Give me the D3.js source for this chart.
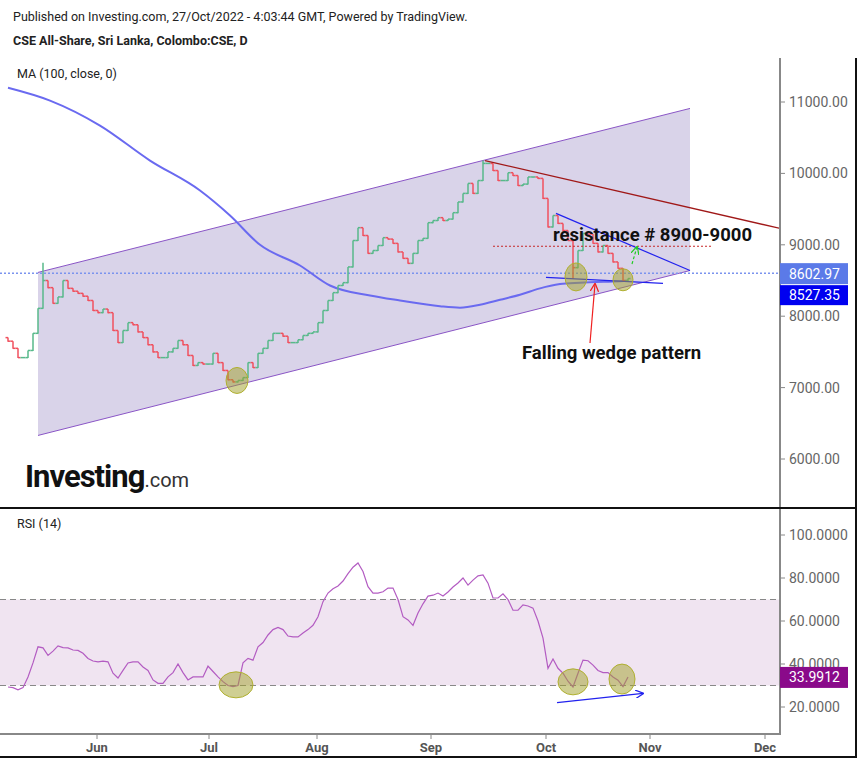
<!DOCTYPE html>
<html><head><meta charset="utf-8">
<script src="https://cdn.jsdelivr.net/npm/d3@7"></script>
<style>body{margin:0;background:#fff}svg{display:block;font-family:Roboto,"Liberation Sans",sans-serif}</style>
</head><body><svg id="c" width="864" height="763"></svg>
<script>
// ---- data ----
const closes=[7650,7550,7420,7420,7520,7760,8110,8500,8400,8180,
8270,8500,8390,8350,8320,8280,8220,8080,8050,8100,
8050,7800,7630,7800,7910,7880,7780,7700,7600,7500,
7420,7420,7500,7550,7660,7600,7450,7310,7350,7330,
7330,7480,7350,7240,7110,7080,7100,7140,7350,7280,
7480,7550,7660,7760,7760,7720,7630,7630,7670,7730,
7760,7780,7910,8080,8220,8330,8430,8470,8690,9060,
9240,9130,8880,8920,8990,9100,9080,9020,8900,8810,
8740,8880,9060,9090,9310,9340,9380,9340,9360,9450,
9600,9720,9860,9720,9900,10140,10140,10040,9900,9900,
10010,9970,9830,9850,9950,9950,9930,9650,9250,9410,
9300,9200,9060,8680,8920,9160,9150,9020,8900,8990,
8880,8760,8670,8500,8527.35];
const firstOpen=7700;
const wicks=[{i:7,high:8750,low:8110},{i:113,high:9060,low:8530},{i:69,high:9060,low:8690},{i:95,high:10180,low:9900}];
const rsi=[29.3,29,28,29,34,40.5,48,47.5,44,46,
48.4,47.6,47.5,46.5,46.3,45,42.6,41.4,41,41.3,
41,35.7,33.5,37,40.5,41,41,38.6,37,32.6,
31,31,34,36,40,36,32.6,34,34,34,
39,36.5,34,31.8,30,29.5,30,40.5,42.6,41.8,
48,50,53.5,56,57,56,53,52.6,52.6,54.4,
56,58,62,69,73,75,76.3,78.6,82,85,
87,83,76,73,73,73.6,75.3,75.3,70,62,
60.5,58,63.7,68,71.6,72,73,71.6,73.5,75.8,
77.7,80,76.7,79,81,81.4,77.6,70.7,70.7,72.6,
70,65,65,67.5,67,66,60,52,38,42.3,
38,35.7,32,29.3,35.7,41.8,41.5,39.5,37,36,
36,34,32.5,29.5,33.9912];
const maIdx=[0,8.4,18.4,28.4,38.4,44.4,50.4,58.4,64.4,72.4,78.4,86.4,90.4,94.4,98.4,102.4,106.4,110.4,114.4,122.4,124];
const maVal=[11200,11020,10670,10180,9760,9410,9000,8710,8430,8290,8220,8140,8120,8160,8230,8300,8390,8450,8470,8490,8495];
const priceTicks=[11000,10000,9000,8000,7000,6000];
const rsiTicks=[100,80,60,40,20];
const months=["Jun","Jul","Aug","Sep","Oct","Nov","Dec"];
const monthIdx=[17.8,40.2,61.8,84.6,107.6,128.4,151.4];
const lastPrice=8602.97;
// drawings (bar index, price)
const channel={top:[[6,8613],[136.4,10910]],bot:[[6,6330],[136.4,8640]]};
const trendTop=[[95.4,10180],[155,9220]];
const resistance=[[97,8980],[141,8980]];
const wedgeUpper=[[109.6,9440],[136.4,8640]];
const wedgeLower=[[107.6,8545],[131,8460]];
const priceEll=[[45.8,7100],[113.6,8550],[123,8510]];
const rsiEll=[[45.6,30.3],[113,31.7],[122.8,33]];
const rsiArrow=[[109.8,22],[127,26.3]];

// ---- scales ----
const svg=d3.select("#c");
const x=d3.scaleLinear().domain([0,124]).range([8,628]);
const y=d3.scaleLinear().domain([6000,11000]).range([459,102]);
const yr=d3.scaleLinear().domain([20,100]).range([707,535]);

svg.append("text").attr("x",13).attr("y",21).attr("font-size",12.5).attr("fill","#222").text("Published on Investing.com, 27/Oct/2022 - 4:03:44 GMT, Powered by TradingView.");
svg.append("text").attr("x",13).attr("y",45).attr("font-size",12.5).attr("font-weight","bold").attr("fill","#222").text("CSE All-Share, Sri Lanka, Colombo:CSE, D");

const defs=svg.append("defs");
defs.append("clipPath").attr("id","cm").append("rect").attr("x",0).attr("y",58).attr("width",780).attr("height",449);
defs.append("clipPath").attr("id","cr").append("rect").attr("x",0).attr("y",509).attr("width",780).attr("height",224);
["red","blue","green"].forEach((c,k)=>{defs.append("marker").attr("id","m"+c).attr("viewBox","0 0 10 10").attr("refX",9).attr("refY",5).attr("markerWidth",7).attr("markerHeight",7).attr("orient","auto")
 .append("path").attr("d","M0,0L10,5L0,10").attr("fill","none").attr("stroke",["#f02020","#2222ee","#22cc22"][k]).attr("stroke-width",1.5);});

const gm=svg.append("g").attr("clip-path","url(#cm)");
const chPts=[channel.top[0],channel.top[1],channel.bot[1],channel.bot[0]];
gm.append("path").attr("d",d3.line()(chPts.map(p=>[x(p[0]),y(p[1])]))+"Z").attr("fill","#d9d3e9");
[channel.top,channel.bot].forEach(l=>gm.append("line").attr("x1",x(l[0][0])).attr("y1",y(l[0][1])).attr("x2",x(l[1][0])).attr("y2",y(l[1][1])).attr("stroke","#8a55c6").attr("stroke-width",1));
svg.append("text").attr("x",17).attr("y",78).attr("font-size",12.5).attr("fill","#222").text("MA (100, close, 0)");
gm.append("line").attr("x1",0).attr("x2",780).attr("y1",y(lastPrice)).attr("y2",y(lastPrice)).attr("stroke","#7b93ee").attr("stroke-width",1.5).attr("stroke-dasharray","2,2");
gm.append("path").attr("d",d3.line().curve(d3.curveMonotoneX)(maIdx.map((v,i)=>[x(v),y(maVal[i])]))).attr("fill","none").attr("stroke","#6a6af0").attr("stroke-width",2);
const bars=closes.map((c,i)=>{const o=i?closes[i-1]:firstOpen;const w=wicks.find(d=>d.i===i);return{i,o,c,h:w?w.high:Math.max(o,c),l:w?w.low:Math.min(o,c)};});
const bg=gm.append("g");
bars.forEach(b=>{const col=b.c>=b.o?"#57b98a":"#f0505e";const g=bg.append("g").attr("stroke",col).attr("stroke-width",1.5);const xx=x(b.i);
 g.append("line").attr("x1",xx).attr("x2",xx).attr("y1",y(b.h)).attr("y2",y(b.l)+0.5);
 g.append("line").attr("x1",xx-2.5).attr("x2",xx).attr("y1",y(b.o)).attr("y2",y(b.o));
 g.append("line").attr("x1",xx).attr("x2",xx+2.5).attr("y1",y(b.c)).attr("y2",y(b.c));});
const L=(p,col,w,dash)=>{const l=gm.append("line").attr("x1",x(p[0][0])).attr("y1",y(p[0][1])).attr("x2",x(p[1][0])).attr("y2",y(p[1][1])).attr("stroke",col).attr("stroke-width",w);if(dash)l.attr("stroke-dasharray",dash);return l;};
L(trendTop,"#a01818",1.3);
L(resistance,"#c62828",1.2,"2,2");
L(wedgeUpper,"#2222ee",1.2);
L(wedgeLower,"#2222ee",1.2);
gm.append("line").attr("x1",632).attr("y1",264).attr("x2",637).attr("y2",247).attr("stroke","#22cc22").attr("stroke-width",1.2).attr("stroke-dasharray","3,2").attr("marker-end","url(#mgreen)");
gm.append("line").attr("x1",590).attr("y1",343).attr("x2",595).attr("y2",284).attr("stroke","#f02020").attr("stroke-width",1.2).attr("marker-end","url(#mred)");
priceEll.forEach((p,k)=>gm.append("ellipse").attr("cx",x(p[0])).attr("cy",y(p[1])).attr("rx",[11,11,10][k]).attr("ry",[13,14,11][k]).attr("fill","rgba(160,160,40,0.5)").attr("stroke","#b0b030").attr("stroke-width",1));
gm.append("text").attr("x",553).attr("y",241).attr("font-size",18.5).attr("font-weight","bold").attr("fill","#111").text("resistance # 8900-9000");
gm.append("text").attr("x",522).attr("y",359).attr("font-size",18.5).attr("font-weight","bold").attr("fill","#111").text("Falling wedge pattern");
const lg=svg.append("text").attr("x",25).attr("y",487);
lg.append("tspan").attr("font-size",31).attr("font-weight","bold").attr("letter-spacing",-1).attr("fill","#111").text("Investing");
lg.append("tspan").attr("font-size",20).attr("fill","#333").text(".com");

svg.append("line").attr("x1",780).attr("x2",780).attr("y1",58).attr("y2",507).attr("stroke","#888").attr("stroke-width",2);
priceTicks.forEach(t=>{svg.append("line").attr("x1",780).attr("x2",785).attr("y1",y(t)).attr("y2",y(t)).attr("stroke","#888");
 svg.append("text").attr("x",789).attr("y",y(t)+5).attr("font-size",14).attr("fill","#666").text(d3.format(".2f")(t));});
svg.append("rect").attr("x",780).attr("y",y(lastPrice)-10).attr("width",68).attr("height",21).attr("fill","#5b7ae8");
svg.append("text").attr("x",789).attr("y",y(lastPrice)+5.5).attr("font-size",14).attr("fill","#fff").text(d3.format(".2f")(lastPrice));
svg.append("rect").attr("x",780).attr("y",y(lastPrice)+12).attr("width",68).attr("height",20).attr("fill","#0000f0");
svg.append("text").attr("x",789).attr("y",y(lastPrice)+27).attr("font-size",14).attr("fill","#fff").text(d3.format(".2f")(closes[closes.length-1]));

svg.append("line").attr("x1",0).attr("x2",856).attr("y1",508).attr("y2",508).attr("stroke","#111").attr("stroke-width",2);

const gr=svg.append("g").attr("clip-path","url(#cr)");
gr.append("rect").attr("x",0).attr("width",780).attr("y",yr(70)).attr("height",yr(30)-yr(70)).attr("fill","#f0e4f1");
[70,30].forEach(v=>gr.append("line").attr("x1",0).attr("x2",780).attr("y1",yr(v)).attr("y2",yr(v)).attr("stroke","#888").attr("stroke-width",1).attr("stroke-dasharray","6,4"));
gr.append("path").attr("d",d3.line()(rsi.map((v,i)=>[x(i),yr(v)]))).attr("fill","none").attr("stroke","#b35cc2").attr("stroke-width",1.2);
rsiEll.forEach((p,k)=>gr.append("ellipse").attr("cx",x(p[0])).attr("cy",yr(p[1])).attr("rx",[17,15,13][k]).attr("ry",[13,13,15][k]).attr("fill","rgba(160,160,40,0.5)").attr("stroke","#b0b030"));
gr.append("line").attr("x1",x(rsiArrow[0][0])).attr("y1",yr(rsiArrow[0][1])).attr("x2",x(rsiArrow[1][0])).attr("y2",yr(rsiArrow[1][1])).attr("stroke","#2222ee").attr("stroke-width",1.2).attr("marker-end","url(#mblue)");
svg.append("text").attr("x",17).attr("y",528).attr("font-size",12.5).attr("fill","#222").text("RSI (14)");
svg.append("line").attr("x1",780).attr("x2",780).attr("y1",509).attr("y2",734).attr("stroke","#888").attr("stroke-width",2);
rsiTicks.forEach(t=>{svg.append("line").attr("x1",780).attr("x2",785).attr("y1",yr(t)).attr("y2",yr(t)).attr("stroke","#888");
 svg.append("text").attr("x",789).attr("y",yr(t)+5).attr("font-size",14).attr("fill","#666").text(d3.format(".4f")(t));});
const lastR=rsi[rsi.length-1];
svg.append("rect").attr("x",780).attr("y",yr(lastR)-10).attr("width",68).attr("height",21).attr("fill","#8a0a8a");
svg.append("text").attr("x",789).attr("y",yr(lastR)+5.5).attr("font-size",14).attr("fill","#fff").text(d3.format(".4f")(lastR));

svg.append("line").attr("x1",0).attr("x2",781).attr("y1",734).attr("y2",734).attr("stroke","#888").attr("stroke-width",2);
months.forEach((m,k)=>{const xx=x(monthIdx[k]);svg.append("line").attr("x1",xx).attr("x2",xx).attr("y1",734).attr("y2",739).attr("stroke","#888");
 svg.append("text").attr("x",xx).attr("y",752).attr("text-anchor","middle").attr("font-size",13).attr("font-weight","bold").attr("fill","#555").text(m);});
svg.append("line").attr("x1",856).attr("x2",856).attr("y1",58).attr("y2",758).attr("stroke","#111").attr("stroke-width",2);
svg.append("line").attr("x1",0).attr("x2",857).attr("y1",757).attr("y2",757).attr("stroke","#111").attr("stroke-width",2);
</script></body></html>
